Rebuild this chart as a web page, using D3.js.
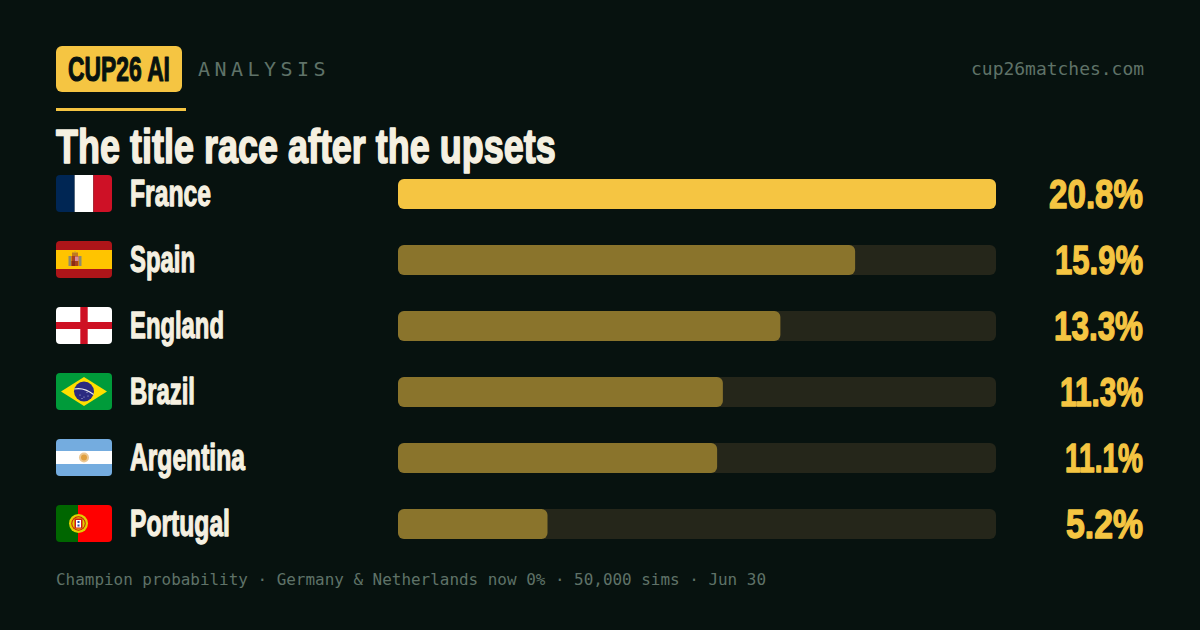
<!DOCTYPE html>
<html><head><meta charset="utf-8">
<script src="https://cdn.jsdelivr.net/npm/d3@7"></script>
<style>html,body{margin:0;padding:0;background:#07120f}svg{display:block}
.h{font-family:"Liberation Sans Narrow","Liberation Sans",sans-serif;font-weight:700}
.m{font-family:"DejaVu Sans Mono","Liberation Mono",monospace}</style></head><body>
<script>
const countries=["France","Spain","England","Brazil","Argentina","Portugal"];
const flagCodes=["fr","es","en","br","ar","pt"];
const probabilities=[20.8,15.9,13.3,11.3,11.1,5.2];
const labelWidths=[81,65,94,65,115,100];
const valueWidths=[94,88,89,83,78,77];
const brandText="CUP26 AI",tagText="ANALYSIS",siteText="cup26matches.com";
const titleText="The title race after the upsets";
const footText="Champion probability · Germany & Netherlands now 0% · 50,000 sims · Jun 30";
const GOLD="#f5c542",CREAM="#f5f0e1",MUTED="#5f7268",BG="#07120f";

const svg=d3.select("body").append("svg").attr("width",1200).attr("height",630);
svg.append("rect").attr("width",1200).attr("height",630).attr("fill",BG);
const defs=svg.append("defs");

// condensed-bold real text, squeezed horizontally to a target width about its anchor
function heavy(g,t,x,y,size,w,fill,anchor){
  const n=g.append("text").attr("class","h").attr("font-size",size)
   .attr("fill",fill).attr("stroke",fill).attr("stroke-width",size*0.034).attr("stroke-linejoin","round")
   .attr("text-anchor",anchor||"start").text(t);
  const k=w/n.node().getComputedTextLength();
  n.attr("transform",`translate(${x},${y}) scale(${k},1)`);
  return n;
}
// header
svg.append("rect").attr("x",56).attr("y",46).attr("width",126).attr("height",46).attr("rx",6).attr("fill",GOLD);
heavy(svg,brandText,68,81,35,102,BG);
svg.append("text").attr("class","m").attr("x",198).attr("y",76).attr("font-size",20).attr("fill",MUTED)
  .attr("letter-spacing",5.4).attr("textLength",133).attr("lengthAdjust","spacing").text(tagText);
svg.append("text").attr("class","m").attr("x",1144).attr("y",75).attr("font-size",18).attr("fill",MUTED)
  .attr("text-anchor","end").attr("textLength",173).attr("lengthAdjust","spacingAndGlyphs").text(siteText);
svg.append("rect").attr("x",56).attr("y",108).attr("width",130).attr("height",3).attr("fill",GOLD);
heavy(svg,titleText,56,163,49,500,CREAM);

// scales
const x=d3.scaleLinear().domain([0,d3.max(probabilities)]).range([398,996]);
const y=d3.scalePoint().domain(countries).range([194,524]);

const rows=svg.selectAll("g.row").data(countries).join("g").attr("class","row")
  .attr("transform",d=>`translate(0,${y(d)})`);
rows.append("rect").attr("x",x(0)).attr("y",-15).attr("width",x.range()[1]-x(0)).attr("height",30).attr("rx",6)
  .attr("fill","#25261a");
rows.append("rect").attr("x",x(0)).attr("y",-15).attr("height",30).attr("rx",6)
  .attr("width",(d,i)=>x(probabilities[i])-x(0))
  .attr("fill",(d,i)=>i===0?GOLD:"#8a742c");
rows.each(function(d,i){
  const g=d3.select(this);
  heavy(g,d,130,12,37,labelWidths[i],CREAM);
  heavy(g,probabilities[i].toFixed(1)+"%",1143,14,41,valueWidths[i],GOLD,"end");
  drawFlag(g,flagCodes[i],i);
});

function drawFlag(g,code,i){
  const W=56,H=37;
  defs.append("clipPath").attr("id","c"+i).append("rect").attr("width",W).attr("height",H).attr("rx",4);
  const f=g.append("g").attr("transform",`translate(56,${-19})`).append("g").attr("clip-path",`url(#c${i})`);
  const r=(a,b,c,d,col)=>f.append("rect").attr("x",a).attr("y",b).attr("width",c).attr("height",d).attr("fill",col);
  const ci=(a,b,c,col)=>f.append("circle").attr("cx",a).attr("cy",b).attr("r",c).attr("fill",col);
  if(code==="fr"){r(0,0,18.67,H,"#002654");r(18.67,0,18.67,H,"#fff");r(37.33,0,18.67,H,"#ce1126");}
  if(code==="es"){r(0,0,W,H,"#ad1519");r(0,9,W,19,"#ffc400");
    r(12.5,15,2.5,10,"#8f8a70");r(23,15,2.5,10,"#8f8a70");
    r(15.5,15,7,10,"#a8401c");r(19,15.5,3.5,4.5,"#d88aa0");r(15.5,20,3.5,5,"#8c2a14");
    r(16,11.5,6,3.5,"#c07a20");r(18.2,10.5,1.6,1.5,"#c9a030");}
  if(code==="en"){r(0,0,W,H,"#fff");r(24.3,0,7.4,H,"#ce1124");r(0,15,W,7,"#ce1124");}
  if(code==="br"){r(0,0,W,H,"#009b3a");
    f.append("polygon").attr("points","5,18.5 28,4 51,18.5 28,33").attr("fill","#fedf00");
    ci(28,18.5,10,"#2b2a80");
    f.append("path").attr("d","M18.3 16 Q28 14 37.6 21.5").attr("fill","none").attr("stroke","#e8e8e8").attr("stroke-width",1.1);
    [[24,22],[28,24],[32,23],[26,25.5],[31,19.5]].forEach(p=>ci(p[0],p[1],0.5,"#d8d8f0"));}
  if(code==="ar"){r(0,0,W,H,"#74acdf");r(0,12,W,13,"#fff");
    ci(28,18.5,5,"#ecc894");ci(28,18.5,3,"#e0a040");}
  if(code==="pt"){r(0,0,22,H,"#006600");r(22,0,34,H,"#ff0000");
    ci(22.5,18.5,9.5,"#e0d000");ci(22.5,18.5,7.2,"#c81010");
    ci(22.5,18.5,6.2,"#e0d000");
    r(18.5,13.5,8,10,"#d01818");r(20,15,5,7.5,"#fff");r(21.5,16,2,2,"#2a4aa8");r(21.5,19.5,2,2,"#2a4aa8");}
}
svg.append("text").attr("class","m").attr("x",56).attr("y",585).attr("font-size",16).attr("fill",MUTED)
  .attr("textLength",710).attr("lengthAdjust","spacingAndGlyphs").text(footText);
</script></body></html>
